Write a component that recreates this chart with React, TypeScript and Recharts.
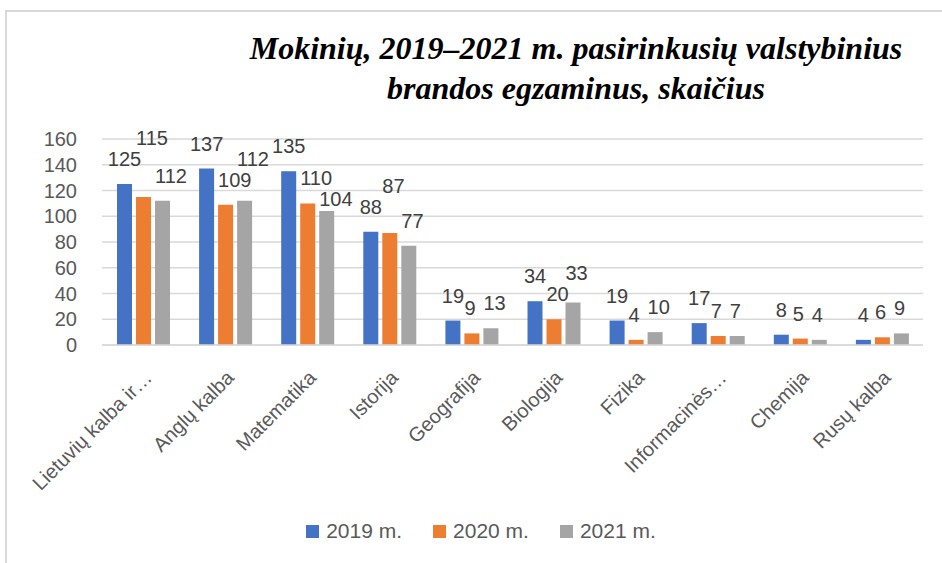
import React from "react";
import { BarChart, Bar, XAxis, YAxis, CartesianGrid, Legend, LabelList } from "recharts";

const categories = [
  "Lietuvių kalba ir…",
  "Anglų kalba",
  "Matematika",
  "Istorija",
  "Geografija",
  "Biologija",
  "Fizika",
  "Informacinės…",
  "Chemija",
  "Rusų kalba",
];
const y2019 = [125, 137, 135, 88, 19, 34, 19, 17, 8, 4];
const y2020 = [115, 109, 110, 87, 9, 20, 4, 7, 5, 6];
const y2021 = [112, 112, 104, 77, 13, 33, 10, 7, 4, 9];
const seriesNames = ["2019 m.", "2020 m.", "2021 m."];
const colors = ["#4472C4", "#ED7D31", "#A5A5A5"];
const yTicks = [0, 20, 40, 60, 80, 100, 120, 140, 160];
const titleLines = ["Mokinių, 2019–2021 m. pasirinkusių valstybinius", "brandos egzaminus, skaičius"];

const series = [y2019, y2020, y2021];
const data = categories.map((c, i) => ({ name: c, a: y2019[i], b: y2020[i], c: y2021[i] }));

const FONT = "'Liberation Sans', Arial, sans-serif";
const BAR = 15;
const GAP = 4;
const STEP = BAR + GAP;
const LABEL_FS = 20;
const DIGIT_W = LABEL_FS * 0.556;
const SEP = 21;

type Box = { left: number; w: number; cy: number };

function collide(a: Box, b: Box): boolean {
  const ox = Math.min(a.left + a.w, b.left + b.w) - Math.max(a.left, b.left);
  const dy = Math.abs(a.cy - b.cy);
  if (ox > 2) return dy < SEP;
  if (ox > -1) return dy < 8;
  return false;
}

function layoutGroup(i: number, ppu: number, bottom: number, x0: number): Box[] {
  const boxes: Box[] = [];
  for (let k = 0; k < series.length; k++) {
    const v = series[k][i];
    const bx = x0 + k * STEP;
    const top = bottom - v * ppu;
    const w = String(v).length * DIGIT_W;
    const left = k === 0 ? bx + BAR / 2 - w / 2 : bx;
    const hits = (c: number) => boxes.filter((p) => collide(p, { left, w, cy: c }));
    let cy = top - 25;
    const h = hits(cy);
    if (h.length) {
      const down = Math.max(...h.map((p) => p.cy)) + SEP;
      const downOk = down <= top - 9 && hits(down).length === 0;
      let up = Math.min(...h.map((p) => p.cy)) - SEP;
      let guard = 0;
      while (hits(up).length && guard < 10) {
        up = Math.min(...hits(up).map((p) => p.cy)) - SEP;
        guard++;
      }
      cy = k === 1 ? up : downOk ? down : up;
    }
    boxes.push({ left, w, cy });
  }
  return boxes;
}

const makeLabel = (s: number) => (props: any) => {
  const vb = props.viewBox || {};
  const x = props.x ?? vb.x;
  const y = props.y ?? vb.y;
  const height = props.height ?? vb.height;
  const index = props.index;
  const v = series[s][index];
  if (!v) return null;
  const ppu = height / v;
  const bottom = y + height;
  const x0 = x - s * STEP;
  const boxes = layoutGroup(index, ppu, bottom, x0);
  const b = boxes[s];
  return (
    <text
      x={b.left}
      y={b.cy}
      textAnchor="start"
      dominantBaseline="central"
      fill="#404040"
      fontSize={LABEL_FS}
      fontFamily={FONT}
    >
      {v}
    </text>
  );
};

const XTick = (props: any) => {
  const { x, y, payload } = props;
  return (
    <g transform={`translate(${x + 10},${y + 26})`}>
      <text x={0} y={0} textAnchor="end" transform="rotate(-45)" fill="#595959" fontSize={20} fontFamily={FONT}>
        {payload.value}
      </text>
    </g>
  );
};

const LegendContent = () => (
  <div
    style={{
      display: "flex",
      justifyContent: "center",
      alignItems: "center",
      transform: "translateX(17px)",
      fontFamily: FONT,
      fontSize: 21,
      color: "#595959",
      height: 40,
    }}
  >
    {seriesNames.map((n, k) => (
      <div key={n} style={{ display: "flex", alignItems: "center", marginRight: k < 2 ? 31 : 0 }}>
        <span style={{ display: "inline-block", width: 13, height: 13, background: colors[k], marginRight: 7 }} />
        <span>{n}</span>
      </div>
    ))}
  </div>
);

export default function App() {
  return (
    <div style={{ position: "absolute", left: 0, top: 0, width: 942, height: 563, background: "#fff" }}>
      <div
        style={{
          position: "absolute",
          left: 5,
          top: 10,
          width: 937,
          height: 553,
          borderTop: "2px solid #d9d9d9",
          borderLeft: "2px solid #d9d9d9",
          boxSizing: "border-box",
        }}
      />
      <div
        style={{
          position: "absolute",
          left: 226,
          width: 700,
          top: 28,
          textAlign: "center",
          fontFamily: "'Liberation Serif', 'Times New Roman', serif",
          fontStyle: "italic",
          fontWeight: "bold",
          fontSize: 32,
          lineHeight: "40px",
          color: "#000",
          whiteSpace: "nowrap",
        }}
      >
        <div>{titleLines[0]}</div>
        <div>{titleLines[1]}</div>
      </div>
      <div style={{ position: "absolute", left: 5, top: 10 }}>
        <BarChart
          width={937}
          height={553}
          data={data}
          margin={{ top: 129, right: 19, left: 0, bottom: 12 }}
          barSize={BAR}
          barGap={GAP}
        >
          <CartesianGrid vertical={false} stroke="#d9d9d9" strokeWidth={1.5} />
          <XAxis
            dataKey="name"
            interval={0}
            tickLine={false}
            axisLine={{ stroke: "#d9d9d9", strokeWidth: 1.5 }}
            height={166}
            tick={<XTick />}
          />
          <YAxis
            width={97}
            domain={[0, 160]}
            ticks={yTicks}
            interval={0}
            tickLine={false}
            axisLine={false}
            tick={{ fill: "#595959", fontSize: 20, fontFamily: FONT }}
            tickMargin={19}
          />
          <Legend verticalAlign="bottom" height={40} content={<LegendContent />} />
          <Bar dataKey="a" name={seriesNames[0]} fill={colors[0]} isAnimationActive={false}>
            <LabelList dataKey="a" content={makeLabel(0)} />
          </Bar>
          <Bar dataKey="b" name={seriesNames[1]} fill={colors[1]} isAnimationActive={false}>
            <LabelList dataKey="b" content={makeLabel(1)} />
          </Bar>
          <Bar dataKey="c" name={seriesNames[2]} fill={colors[2]} isAnimationActive={false}>
            <LabelList dataKey="c" content={makeLabel(2)} />
          </Bar>
        </BarChart>
      </div>
    </div>
  );
}
